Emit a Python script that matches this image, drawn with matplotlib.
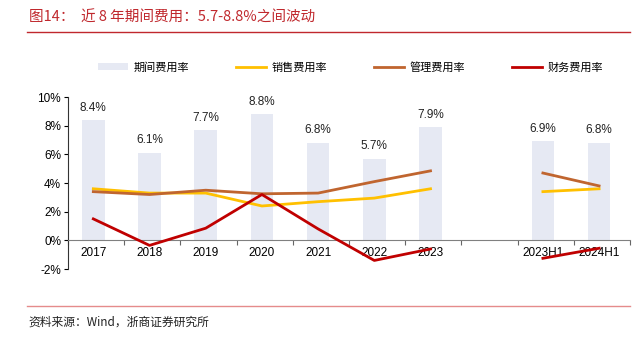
import numpy as np
import matplotlib.pyplot as plt
from matplotlib.patches import Patch
from matplotlib.lines import Line2D

plt.rcParams['font.family'] = ['Liberation Sans', 'Noto Sans CJK SC']

# 期间 / 销售 / 管理 / 财务 费用率 (%), 第 8 格留空隔开年度与半年度
categories = ['2017', '2018', '2019', '2020', '2021', '2022', '2023', '', '2023H1', '2024H1']
period_rate = [8.4, 6.1, 7.7, 8.8, 6.8, 5.7, 7.9, np.nan, 6.9, 6.8]
sales_rate = [3.6, 3.3, 3.3, 2.4, 2.7, 2.95, 3.6, np.nan, 3.4, 3.6]
admin_rate = [3.4, 3.2, 3.5, 3.25, 3.3, 4.1, 4.85, np.nan, 4.7, 3.8]
finance_rate = [1.5, -0.35, 0.85, 3.2, 0.8, -1.4, -0.6, np.nan, -1.25, -0.55]

bar_color = '#e6e9f3'
sales_color = '#ffc000'
admin_color = '#c0652f'
finance_color = '#c00000'
title_red = '#c0282d'
cjk = ['Noto Sans CJK SC', 'Liberation Sans']

fig = plt.figure(figsize=(6.43, 3.41), dpi=100)
ax = fig.add_axes([0.1058, 0.211, 0.874, 0.5044])

# spine position first: moving it resets the tick objects
for side in ['top', 'right']:
    ax.spines[side].set_visible(False)
ax.spines['bottom'].set_position(('data', 0))
ax.spines['bottom'].set_color('#808080')
ax.spines['left'].set_color('#333333')
ax.spines['left'].set_linewidth(0.8)

x = np.arange(len(categories))
ax.bar(x, period_rate, width=0.4, color=bar_color, zorder=1)
for xi, v in zip(x, period_rate):
    if not np.isnan(v):
        ax.text(xi, v + 0.45, f'{v:.1f}%', ha='center', va='bottom', fontsize=8.5, color='#222222')

ax.plot(x, sales_rate, color=sales_color, lw=2, zorder=3)
ax.plot(x, admin_rate, color=admin_color, lw=2, zorder=3)
ax.plot(x, finance_rate, color=finance_color, lw=2, zorder=3)

ax.set_xlim(-0.45, len(categories) - 0.45)
ax.set_ylim(-2, 10)
ax.set_yticks(range(-2, 11, 2))
ax.set_yticklabels([f'{t}%' for t in range(-2, 11, 2)])
ax.tick_params(axis='y', direction='out', length=3, width=0.8, pad=2, labelsize=8.5)

ax.set_xticks(x)
ax.set_xticklabels(categories)
ax.set_xticks(np.arange(len(categories) + 1) - 0.45, minor=True)
ax.tick_params(axis='x', which='major', length=0, pad=5, labelsize=8.5)
ax.tick_params(axis='x', which='minor', length=3.5, width=0.8, color='#666666', direction='out')

handles = [
    Patch(facecolor=bar_color, edgecolor='none'),
    Line2D([], [], color=sales_color, lw=2),
    Line2D([], [], color=admin_color, lw=2),
    Line2D([], [], color=finance_color, lw=2),
]
labels = ['期间费用率', '销售费用率', '管理费用率', '财务费用率']
fig.legend(handles, labels, loc='center', bbox_to_anchor=(0.545, 0.803), ncol=4,
           frameon=False, prop={'family': cjk, 'size': 8}, handlelength=2.7,
           handleheight=0.6, columnspacing=4.2, handletextpad=0.5)

fig.text(0.045, 0.948, '图14：  近 8 年期间费用：5.7-8.8%之间波动', fontsize=10.5,
         color=title_red, ha='left', va='center', family=cjk)
fig.add_artist(Line2D([0.042, 0.98], [0.905, 0.905], color=title_red, lw=1))
fig.add_artist(Line2D([0.042, 0.98], [0.103, 0.103], color='#e58b8b', lw=1))
fig.text(0.045, 0.055, '资料来源：Wind，浙商证券研究所', fontsize=8.5,
         color='#222222', ha='left', va='center', family=cjk)

fig.savefig('out.png', dpi=100)
